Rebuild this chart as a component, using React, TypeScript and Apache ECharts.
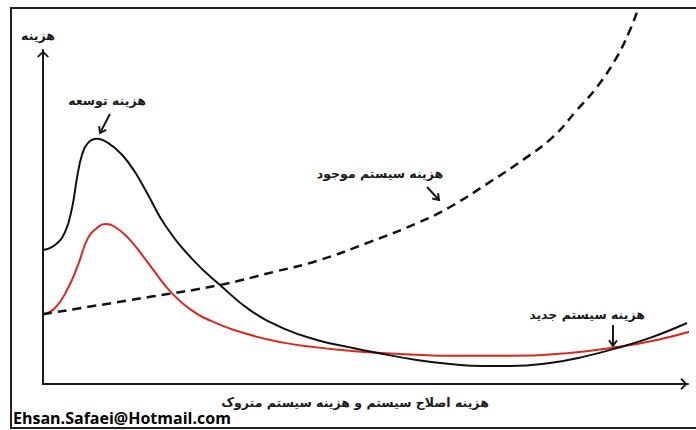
import React, { useEffect, useRef } from "react";
import * as echarts from "echarts";

// Data (x: 0..100 along the horizontal axis, y: 0..98.5 along the vertical axis)
const developmentCost: [number, number][] = [
  [0, 39.5], [1.86, 41.0], [3.41, 44.8], [4.5, 51.9], [5.27, 60.8], [6.05, 67.6],
  [6.98, 71.1], [8.37, 72.3], [10.08, 71.1], [12.25, 67.6], [14.26, 62.5], [16.28, 55.8],
  [18.91, 46.9], [23.26, 36.6], [27.44, 29.2], [32.09, 21.8], [37.26, 16.4], [42.43, 13.0],
  [47.6, 10.8], [51.74, 9.2], [57.94, 7.1], [63.1, 5.9], [68.26, 5.3], [72.4, 5.3],
  [78.6, 6.2], [83.72, 8.0], [88.99, 10.6], [94.11, 13.6], [99.84, 18.0],
];

const redCost: [number, number][] = [
  [0, 20.6], [1.86, 22.4], [3.88, 28.3], [5.43, 35.1], [6.98, 43.1], [8.37, 46.0],
  [9.61, 47.2], [11.16, 46.3], [13.18, 43.1], [15.35, 38.1], [17.36, 33.0], [19.69, 27.4],
  [22.79, 22.1], [26.93, 17.9], [32.09, 14.5], [37.26, 12.2], [42.43, 10.8], [47.6, 9.8],
  [51.74, 9.2], [57.94, 8.6], [63.1, 8.3], [72.4, 8.3], [81.24, 9.1], [88.99, 10.9],
  [95.19, 13.0], [101.09, 15.9],
];

const existingSystemCost: [number, number][] = [
  [0, 20.6], [16.59, 25.7], [27.44, 29.2], [35.66, 33.0], [42.48, 36.3], [50.7, 41.9],
  [58.45, 47.8], [63.1, 52.2], [69.3, 59.6], [74.42, 66.1], [79.07, 72.9], [82.79, 80.8],
  [85.89, 87.6], [88.99, 96.5], [91.01, 104.4], [92.09, 109.7],
];

const yAxisTitle = "هزینه";
const xAxisTitle = "هزینه اصلاح سیستم و هزینه سیستم متروک";
const labelDevelopment = "هزینه توسعه";
const labelExisting = "هزینه سیستم موجود";
const labelNew = "هزینه سیستم جدید";
const credit = "Ehsan.Safaei@Hotmail.com";

const INK = "#1a1a1a";
const ARABIC_FONT = 'bold 12.5px "DejaVu Sans"';

function arrow(x1: number, y1: number, x2: number, y2: number): any[] {
  const dx = x2 - x1;
  const dy = y2 - y1;
  const len = Math.sqrt(dx * dx + dy * dy);
  const ux = dx / len;
  const uy = dy / len;
  const a = (35 * Math.PI) / 180;
  const h = 7;
  const r1x = ux * Math.cos(a) - uy * Math.sin(a);
  const r1y = ux * Math.sin(a) + uy * Math.cos(a);
  const r2x = ux * Math.cos(a) + uy * Math.sin(a);
  const r2y = -ux * Math.sin(a) + uy * Math.cos(a);
  return [
    { type: "line", shape: { x1, y1, x2, y2 }, style: { stroke: INK, lineWidth: 2 } },
    {
      type: "polyline",
      shape: { points: [[x2 - h * r1x, y2 - h * r1y], [x2, y2], [x2 - h * r2x, y2 - h * r2y]] },
      style: { stroke: INK, lineWidth: 2, fill: null },
    },
  ];
}

const chevron = "path://M0,10 L10,0 L20,10 L17.5,12 L10,4.5 L2.5,12 Z";

export default function App() {
  const ref = useRef<HTMLDivElement>(null);
  useEffect(() => {
    if (!ref.current) return;
    const chart = echarts.init(ref.current, undefined, { renderer: "svg" });
    const axisCommon = {
      type: "value" as const,
      axisTick: { show: false },
      axisLabel: { show: false },
      splitLine: { show: false },
    };
    const axisLine = {
      show: true,
      onZero: false,
      symbol: ["none", chevron],
      symbolSize: [12, 8],
      symbolOffset: [0, -4],
      lineStyle: { color: INK, width: 2 },
    };
    chart.setOption({
      animation: false,
      backgroundColor: "#ffffff",
      grid: { left: 43, right: 8, top: 50, bottom: 46 },
      xAxis: { ...axisCommon, min: 0, max: 100, axisLine },
      yAxis: { ...axisCommon, min: 0, max: 98.5, axisLine },
      series: [
        {
          type: "line",
          data: redCost,
          smooth: 0.5,
          showSymbol: false,
          clip: false,
          lineStyle: { color: "#d42a22", width: 2 },
          z: 2,
        },
        {
          type: "line",
          data: developmentCost,
          smooth: 0.45,
          showSymbol: false,
          clip: false,
          lineStyle: { color: "#111111", width: 2 },
          z: 3,
        },
        {
          type: "line",
          data: existingSystemCost,
          smooth: 0.45,
          showSymbol: false,
          clip: false,
          lineStyle: { color: "#111111", width: 2.5, type: [9, 6] },
          z: 4,
        },
      ],
      graphic: [
        {
          type: "rect",
          shape: { x: 11, y: 8, width: 700, height: 420 },
          style: { stroke: "#222222", lineWidth: 2, fill: null },
          silent: true,
        },
        {
          type: "text",
          x: 38,
          y: 35,
          style: { text: yAxisTitle, font: ARABIC_FONT, fill: INK, align: "center", verticalAlign: "middle" },
        },
        {
          type: "text",
          x: 355,
          y: 402,
          style: { text: xAxisTitle, font: ARABIC_FONT, fill: INK, align: "center", verticalAlign: "middle" },
        },
        {
          type: "text",
          x: 107,
          y: 100,
          style: { text: labelDevelopment, font: ARABIC_FONT, fill: INK, align: "center", verticalAlign: "middle" },
        },
        {
          type: "text",
          x: 380,
          y: 173,
          style: { text: labelExisting, font: ARABIC_FONT, fill: INK, align: "center", verticalAlign: "middle" },
        },
        {
          type: "text",
          x: 587,
          y: 314,
          style: { text: labelNew, font: ARABIC_FONT, fill: INK, align: "center", verticalAlign: "middle" },
        },
        ...arrow(110, 114, 100, 133),
        ...arrow(427, 187, 439, 200),
        ...arrow(613, 325, 613, 346),
        {
          type: "text",
          x: 13,
          y: 418,
          style: { text: credit, font: 'bold 16px "Open Sans"', fill: "#000000", align: "left", verticalAlign: "middle" },
        },
      ],
    });
    return () => chart.dispose();
  }, []);
  return (
    <div
      ref={ref}
      style={{ position: "fixed", left: 0, top: 0, width: 696, height: 430 }}
    />
  );
}
